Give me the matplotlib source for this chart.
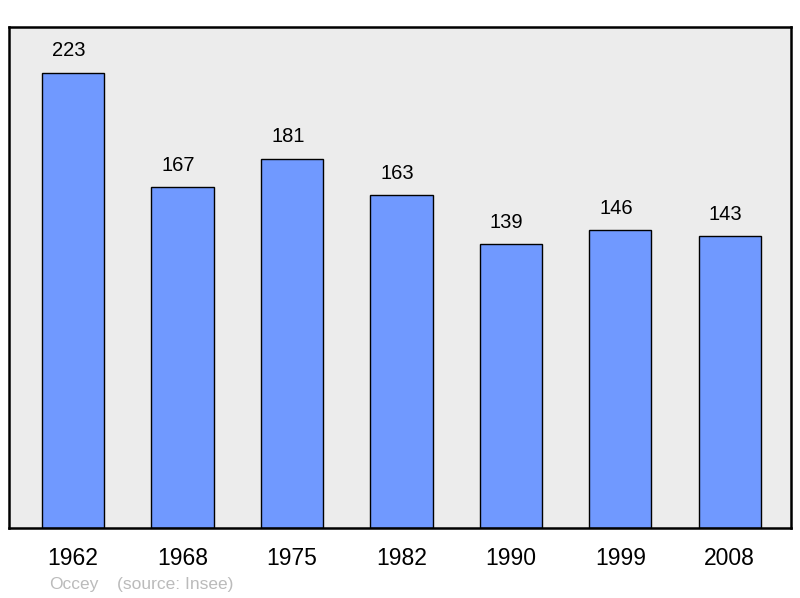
import matplotlib
matplotlib.use("Agg")
import matplotlib.pyplot as plt

years = ["1962", "1968", "1975", "1982", "1990", "1999", "2008"]
population = [223, 167, 181, 163, 139, 146, 143]

plt.rcParams['font.family'] = ['Liberation Sans', 'DejaVu Sans']

fig = plt.figure(figsize=(8, 5.98), dpi=100)
ax = fig.add_axes([9 / 800, 70 / 598, 782 / 800, 501 / 598])
ax.set_facecolor('#ececec')

x = list(range(len(years)))
ax.bar(x, population, width=0.57, color='#7099ff', edgecolor='black', linewidth=1.0)
for xi, v in zip(x, population):
    ax.annotate(str(v), (xi, v), xytext=(-3, 9), textcoords='offset points',
                ha='center', va='bottom', fontsize=14.5)

ax.set_xlim(-0.585, 6.56)
ax.set_ylim(0, 245.5)
ax.set_yticks([])
ax.set_xticks(x)
ax.set_xticklabels(years, fontsize=16.5)
ax.tick_params(axis='x', length=0, pad=14)
for s in ax.spines.values():
    s.set_linewidth(1.8)

fig.text(49 / 800, 1 - 585 / 598, "Occey", color='#bbbbbb', fontsize=12.5, va='center')
fig.text(117 / 800, 1 - 585 / 598, "(source: Insee)", color='#bbbbbb', fontsize=12.5, va='center')

fig.savefig("out.png", dpi=100)
